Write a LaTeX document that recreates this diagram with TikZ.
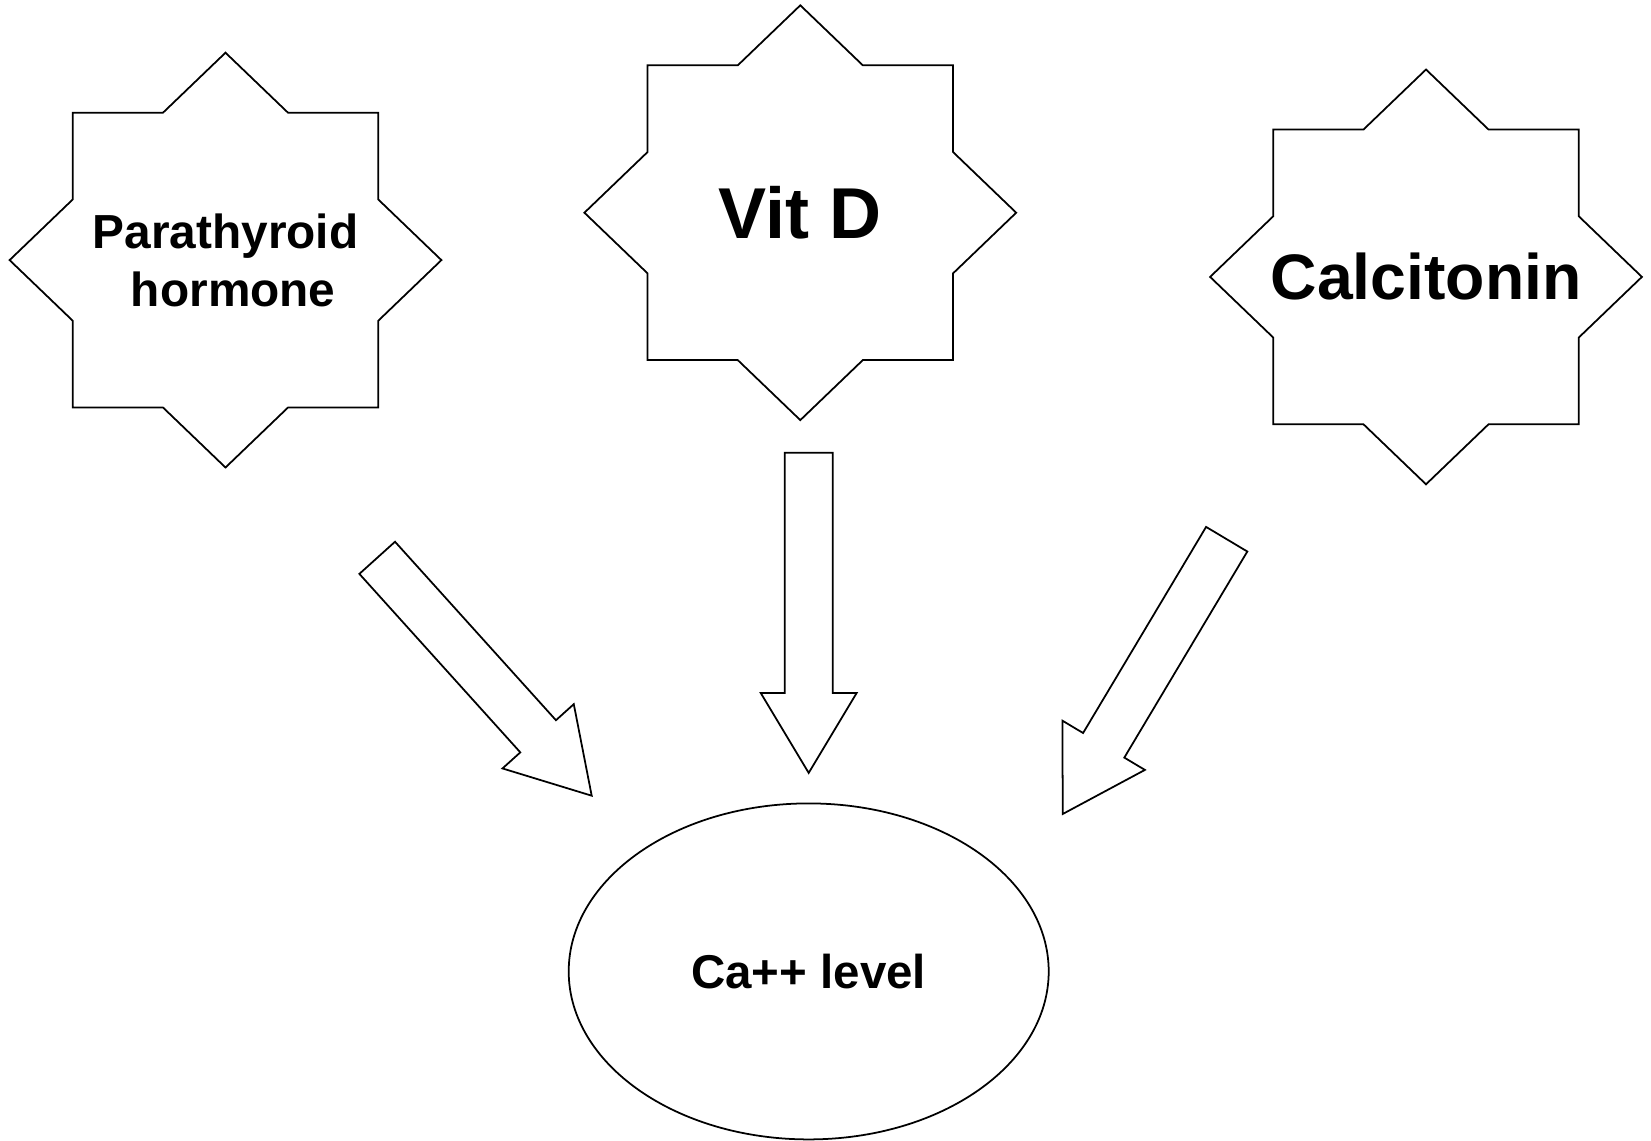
\documentclass[tikz,border=0pt]{standalone}
\usepackage{fontspec}
\setmainfont{Liberation Sans}
\usetikzlibrary{calc, shapes.geometric}

\tikzset{
    hormone/.style={align=center, font=\bfseries, inner sep=0pt},
    level/.style={draw, ellipse, minimum width=4.80cm, minimum height=3.36cm, inner sep=0pt, font=\bfseries\fontsize{13.5}{16}\selectfont}
}

% eight-pointed star (square + diamond) round a node
\newcommand{\hstar}[1]{%
    \draw[shift={(#1.center)}] (-1.527,1.474) -- (-0.625,1.474) -- (0,2.074) -- (0.625,1.474) -- (1.527,1.474) -- (1.527,0.607) -- (2.159,0) -- (1.527,-0.607) -- (1.527,-1.474) -- (0.625,-1.474) -- (0,-2.074) -- (-0.625,-1.474) -- (-1.527,-1.474) -- (-1.527,-0.607) -- (-2.159,0) -- (-1.527,0.607) -- cycle;}

% outlined block arrow from tail #1 to tip #2
\newcommand{\blockarrow}[2]{%
    \coordinate (#2-base) at ($(#2)!0.80cm!(#1)$);
    \draw ($(#1)!0.24cm!90:(#2)$) -- ($(#2-base)!0.24cm!90:(#2)$) -- ($(#2-base)!0.48cm!90:(#2)$) -- (#2) -- ($(#2-base)!0.48cm!-90:(#2)$) -- ($(#2-base)!0.24cm!-90:(#2)$) -- ($(#1)!0.24cm!-90:(#2)$) -- cycle;}

\begin{document}
\begin{tikzpicture}[line width=0.5pt, line join=miter]
    \useasboundingbox (0,0) rectangle (16.51,-11.40);

    \node[hormone, font=\bfseries\fontsize{13.6}{16.5}\selectfont] (pth) at (2.255,-2.601) {Parathyroid\\\hspace*{4.4pt}hormone};
    \node[hormone, font=\bfseries\fontsize{20.5}{24}\selectfont] (vitd) at (8.003,-2.127) {Vit D};
    \node[hormone, font=\bfseries\fontsize{18.3}{22}\selectfont] (calc) at (14.260,-2.769) {Calcitonin};
    \node[level] (ca) at (8.087,-9.714) {Ca++ level};

    \hstar{pth}
    \hstar{vitd}
    \hstar{calc}

    \coordinate (pth-tail) at (3.772,-5.578);
    \coordinate (pth-tip) at (5.917,-7.957);
    \coordinate (vitd-tail) at (8.087,-4.528);
    \coordinate (vitd-tip) at (8.087,-7.729);
    \coordinate (calc-tail) at (12.267,-5.392);
    \coordinate (calc-tip) at (10.627,-8.140);

    \blockarrow{pth-tail}{pth-tip}
    \blockarrow{vitd-tail}{vitd-tip}
    \blockarrow{calc-tail}{calc-tip}
\end{tikzpicture}
\end{document}
